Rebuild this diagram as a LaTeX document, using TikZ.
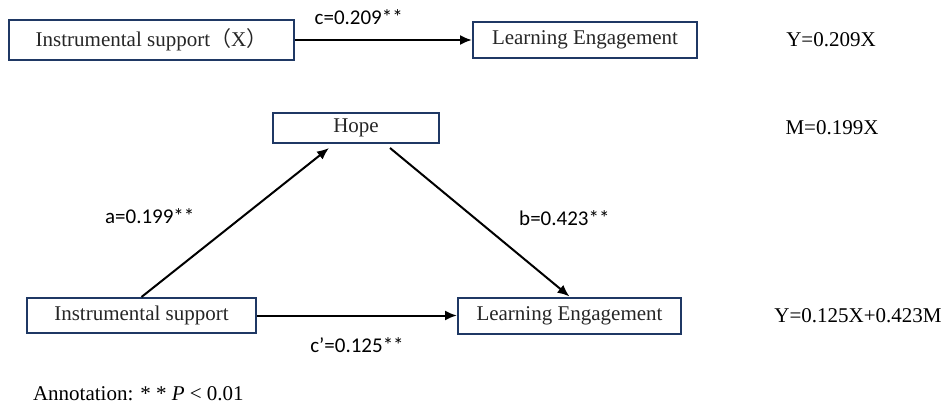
\documentclass[tikz,border=0pt]{standalone}
\usepackage{fontspec}
\setmainfont{Liberation Serif}
\newfontfamily\lblfont{Carlito}
\newfontfamily\cjk{Noto Sans CJK SC}
\usepackage{tikz}
\usetikzlibrary{
	positioning,
	arrows.meta
}
\definecolor{boxblue}{HTML}{1F3864}
\definecolor{boxtext}{HTML}{262626}
\tikzset{
	box/.style={
		draw=boxblue,
		line width=1pt,
		inner sep=0pt,
		text=boxtext,
		font=\fontsize{10.5}{12}\selectfont
	},
	coef/.style={
		font=\lblfont\fontsize{10.5}{12}\selectfont
	},
	eqn/.style={
		font=\fontsize{10.5}{12}\selectfont
	},
	every edge/.append style={
		-{Latex[length=6pt,width=5pt]},
		line width=1pt
	}
}

\begin{document}
\begin{tikzpicture}[x=0.5pt,y=-0.5pt]
		\useasboundingbox (0,0) rectangle (946,406);
		\draw[line width=1pt]
			node[box,minimum width=142.5pt,minimum height=20pt] (ix) at (151.5,40) {Instrumental support{\cjk （}X{\cjk ）}}
			node[box,minimum width=112pt,minimum height=18pt,right=88.5pt of ix] (iy) {Learning Engagement}
			node[box,minimum width=83pt,minimum height=15pt] (hope) at (356,128) {Hope}
			node[box,minimum width=114.5pt,minimum height=17.5pt] (mx) at (141.5,315.5) {Instrumental support}
			node[box,minimum width=111.5pt,minimum height=18pt,right=100pt of mx] (my) {Learning Engagement}

			node[eqn] (eqy)  at (831,40)  {Y=0.209X}
			node[eqn] (eqm)  at (832,128) {M=0.199X}
			node[eqn] (eqym) at (858,316) {Y=0.125X+0.423M}
			node[eqn,anchor=west,inner sep=0pt] (note) at (32,394) {Annotation: * * \textit{P} < 0.01}

			(ix) edge node[coef,above=4pt,pos=0.36] {c=0.209**} (iy)
			(mx.north) edge node[coef,pos=0.54,xshift=-46.5pt] {a=0.199**} ([xshift=-13.5pt,yshift=-2pt]hope.south)
			([xshift=17pt,yshift=-2pt]hope.south) edge node[coef,pos=0.47,xshift=45pt] {b=0.423**} (my.north)
			(mx) edge node[coef,below=7pt] {c’=0.125**} (my)
		;
	\end{tikzpicture}
\end{document}
